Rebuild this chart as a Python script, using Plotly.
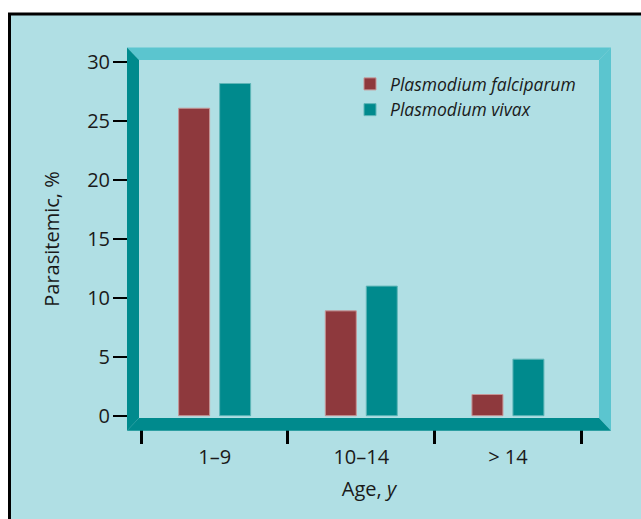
import plotly.graph_objects as go

# ---- data ----
age_groups = ["1–9", "10–14", "> 14"]
falciparum = [26.1, 8.9, 1.8]
vivax = [28.2, 11.0, 4.8]
series_names = ["<i>Plasmodium falciparum</i>", "<i>Plasmodium vivax</i>"]
y_ticks = [0, 5, 10, 15, 20, 25, 30]

# ---- styles ----
W, H = 641, 519
L, R, T, B = 139, 599, 60, 418          # plot area in px
MAROON = "#8e393d"
TEAL = "#008a8d"
LIGHT = "#5bc5cf"
BG = "#b0dfe4"
FONT = "Open Sans"
TXT = "#1a1a1a"

def px(x):
    return (x - L) / (R - L)

def py(y):
    return (B - y) / (B - T)

fig = go.Figure()
fig.add_trace(go.Bar(x=age_groups, y=falciparum, name=series_names[0],
                     marker=dict(color=MAROON, line=dict(color="#c79596", width=1))))
fig.add_trace(go.Bar(x=age_groups, y=vivax, name=series_names[1],
                     marker=dict(color=TEAL, line=dict(color="#5fb6b8", width=1))))

def path(pts):
    return "M " + " L ".join(f"{px(a):.5f},{py(b):.5f}" for a, b in pts) + " Z"

oL, oT, oR, oB = 127, 47.5, 611, 430.7
shapes = [
    dict(type="rect", xref="paper", yref="paper", layer="below",
         x0=px(9.5), x1=px(660), y0=py(14), y1=py(540),
         fillcolor=BG, line=dict(color="black", width=3)),
    dict(type="path", xref="paper", yref="paper", layer="above",
         path=path([(oL, oT), (oR, oT), (R, T), (L, T)]), fillcolor=LIGHT, line=dict(width=0)),
    dict(type="path", xref="paper", yref="paper", layer="above",
         path=path([(R, T), (oR, oT), (oR, oB), (R, B)]), fillcolor=LIGHT, line=dict(width=0)),
    dict(type="path", xref="paper", yref="paper", layer="above",
         path=path([(oL, oT), (L, T), (L, B), (oL, oB)]), fillcolor=TEAL, line=dict(width=0)),
    dict(type="path", xref="paper", yref="paper", layer="above",
         path=path([(oL, oB), (oR, oB), (R, B), (L, B)]), fillcolor=TEAL, line=dict(width=0)),
]

fig.update_layout(
    width=W, height=H,
    margin=dict(l=L, r=W - R, t=T, b=H - B, pad=0, autoexpand=False),
    paper_bgcolor="white",
    plot_bgcolor="white",
    barmode="group",
    bargap=0.441,
    bargroupgap=0.244,
    font=dict(family=FONT, size=20, color=TXT),
    shapes=shapes,
    showlegend=True,
    legend=dict(x=px(350), y=py(66), xanchor="left", yanchor="top",
                bgcolor="rgba(0,0,0,0)", font=dict(size=17.5, color=TXT),
                tracegroupgap=0),
    xaxis=dict(
        type="category", range=[-0.5157, 2.621], tickson="boundaries",
        ticks="outside", ticklen=25, tickwidth=2.5, tickcolor="black",
        showline=False, showgrid=False, zeroline=False,
        tickfont=dict(size=20), ticklabelstandoff=25,
        title=dict(text="Age, <i>y</i>", font=dict(size=20), standoff=12),
        automargin=False, fixedrange=True,
    ),
    yaxis=dict(
        range=[-0.195, 30.195], tickvals=y_ticks,
        ticks="outside", ticklen=25, tickwidth=2, tickcolor="black",
        showline=False, showgrid=False, zeroline=False,
        tickfont=dict(size=20), ticklabelstandoff=-1,
        title=dict(text="Parasitemic, %", font=dict(size=20), standoff=22),
        automargin=False, fixedrange=True,
    ),
)

fig.write_html("out.html", post_script="document.body.style.margin='0';",
               config={"displayModeBar": False})
